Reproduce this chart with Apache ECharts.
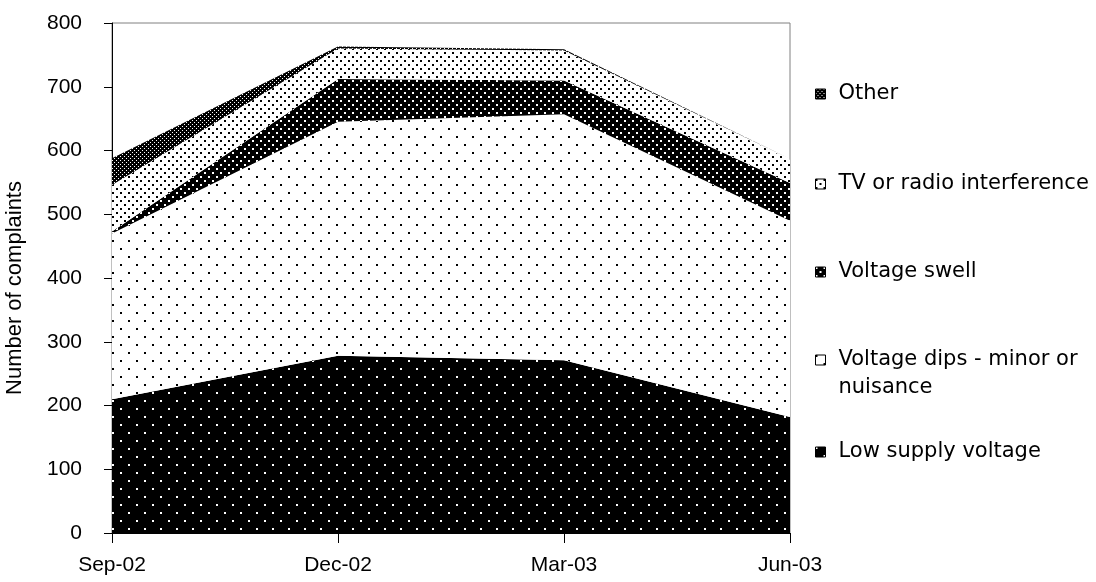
<!DOCTYPE html>
<html>
<head>
<meta charset="utf-8">
<script src="https://cdn.jsdelivr.net/npm/echarts@6/dist/echarts.min.js"></script>
<style>html,body{margin:0;padding:0;background:#fff}#c{width:1096px;height:582px}</style>
</head>
<body>
<div id="c"></div>
<script>
const categories = ['Sep-02', 'Dec-02', 'Mar-03', 'Jun-03'];
const lowSupply = [210, 278, 271, 182];
const voltageDips = [260, 367, 386, 308];
const voltageSwell = [3, 67, 53, 59];
const tvRadio = [73, 48, 47, 36];
const other = [42, 3, 2, 2];
const yTicks = [0, 100, 200, 300, 400, 500, 600, 700, 800];

function tile(w, h, bg, fg, dots, sz) {
  const c = document.createElement('canvas');
  c.width = w; c.height = h;
  const g = c.getContext('2d');
  g.fillStyle = bg; g.fillRect(0, 0, w, h);
  g.fillStyle = fg;
  dots.forEach(d => g.fillRect(d[0], d[1], sz, sz));
  return { image: c, repeat: 'repeat' };
}
const pLow = tile(16, 16, '#000', '#fff', [[0, 0], [8, 8]], 2);
const pDips = tile(16, 16, '#fff', '#000', [[0, 0], [8, 8]], 2);
const pSwell = tile(8, 8, '#000', '#fff', [[0, 0], [4, 4]], 2);
const pTv = tile(8, 8, '#fff', '#000', [[0, 0], [4, 4]], 2);
const pOther = tile(4, 4, '#000', '#fff', [[0, 0], [2, 2]], 1);

const AX = 'Liberation Sans, Arial, sans-serif';
const LG = 'DejaVu Sans, sans-serif';

function mkSeries(name, data, pat) {
  return {
    name, type: 'line', stack: 'total', data,
    showSymbol: false, symbol: 'none',
    lineStyle: { width: 0 },
    itemStyle: { color: pat },
    areaStyle: { color: pat, opacity: 1 },
    emphasis: { disabled: true }
  };
}
function mkLegend(name, pat, top, fmt) {
  return {
    data: [{ name, icon: 'rect', itemStyle: { color: pat, borderColor: '#000', borderWidth: 1 } }],
    orient: 'vertical', left: 815, top, padding: 0,
    itemWidth: 10, itemHeight: 10,
    formatter: fmt || (n => n),
    textStyle: {
      fontFamily: LG, fontSize: 21, color: '#000', lineHeight: 28, padding: [0, 0, 0, 8],
      rich: {
        e: { fontFamily: LG, fontSize: 21, lineHeight: 28 },
        a: { fontFamily: LG, fontSize: 21, lineHeight: 28, color: '#000' }
      }
    }
  };
}

const chart = echarts.init(document.getElementById('c'), null, { renderer: 'canvas' });
chart.setOption({
  animation: false,
  grid: { left: 112, right: 306, top: 23, bottom: 49, show: true, borderColor: '#808080', borderWidth: 1,
          containLabel: false, outerBoundsMode: 'none' },
  xAxis: {
    type: 'category', data: categories, boundaryGap: false,
    axisLine: { lineStyle: { color: '#000', width: 1 } },
    axisTick: { length: 10, lineStyle: { color: '#000' }, alignWithLabel: true },
    axisLabel: { fontFamily: AX, fontSize: 21, color: '#000', margin: 22 },
    splitLine: { show: false }
  },
  yAxis: {
    type: 'value', min: yTicks[0], max: yTicks[yTicks.length - 1], interval: 100,
    name: 'Number of complaints', nameLocation: 'middle', nameGap: 86,
    nameTextStyle: { fontFamily: AX, fontSize: 22, color: '#000', padding: [0, 20, 0, 0] },
    axisLine: { show: true, lineStyle: { color: '#000', width: 1 } },
    axisTick: { show: true, length: 8, lineStyle: { color: '#000' } },
    axisLabel: { fontFamily: AX, fontSize: 21, color: '#000', margin: 30 },
    splitLine: { show: false }
  },
  legend: [
    mkLegend('Other', pOther, 80),
    mkLegend('TV or radio interference', pTv, 170),
    mkLegend('Voltage swell', pSwell, 258),
    mkLegend('Voltage dips - minor or nuisance', pDips, 360 - 42,
      () => '{e| }\n{a|Voltage dips - minor or}\n{a|nuisance}'),
    mkLegend('Low supply voltage', pLow, 438)
  ],
  series: [
    mkSeries('Low supply voltage', lowSupply, pLow),
    mkSeries('Voltage dips - minor or nuisance', voltageDips, pDips),
    mkSeries('Voltage swell', voltageSwell, pSwell),
    mkSeries('TV or radio interference', tvRadio, pTv),
    mkSeries('Other', other, pOther)
  ]
});
</script>
</body>
</html>
